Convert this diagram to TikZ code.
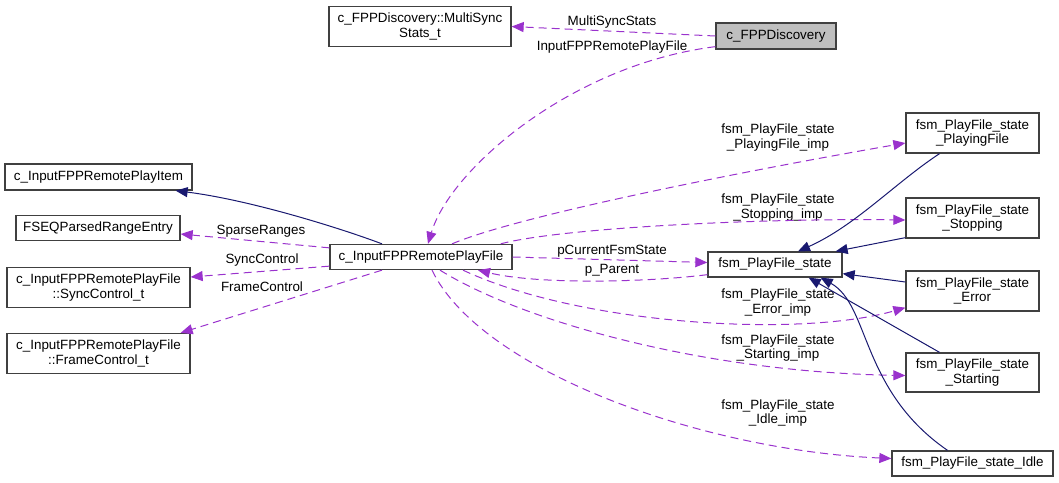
\documentclass[tikz,border=0pt]{standalone}
\usepackage{fontspec}
\setmainfont{Liberation Sans}
\usetikzlibrary{arrows.meta,calc}
\definecolor{Frame}{HTML}{404040}
\definecolor{Shade}{HTML}{BFBFBF}
\definecolor{Orchid}{HTML}{9A32CD}
\definecolor{Navy}{HTML}{191970}
\tikzset{box/.style={draw=Frame,fill=white,line width=1.3pt,inner sep=0pt,minimum height=25pt,align=center,font=\fontsize{13.4}{14.5}\selectfont},member/.style={-{Triangle[length=12pt,width=10pt]},line width=1pt,draw=Orchid,dash pattern=on 8pt off 5pt},inherit/.style={-{Triangle[length=12pt,width=10pt]},line width=1pt,draw=Navy},lab/.style={font=\fontsize{13.4}{14.5}\selectfont,align=center,inner sep=0pt}}

\begin{document}
\begin{tikzpicture}[
  x=1pt,y=-1pt,
  tall/.style={box,minimum height=40pt},
  side/.style={tall,minimum width=133pt}
]
\useasboundingbox (0,0) rectangle (1059,482);
\node[tall,minimum width=182pt] (msync) at (420,26.5) {c\_FPPDiscovery::MultiSync\\Stats\_t};
\node[box,fill=Shade,minimum width=120pt,minimum height=26pt] (disc) at (776,36) {c\_FPPDiscovery};
\node[box,minimum width=187pt,minimum height=26pt] (item) at (98.5,177) {c\_InputFPPRemotePlayItem};
\node[box,minimum width=164pt] (fseq) at (98,228) {FSEQParsedRangeEntry};
\node[tall,minimum width=183pt] (sync) at (98.5,287.5) {c\_InputFPPRemotePlayFile\\::SyncControl\_t};
\node[tall,minimum width=183pt] (frame) at (98.5,353.5) {c\_InputFPPRemotePlayFile\\::FrameControl\_t};
\node[box,minimum width=182pt] (file) at (421,257) {c\_InputFPPRemotePlayFile};
\node[box,minimum width=134pt] (state) at (775,264.5) {fsm\_PlayFile\_state};
\node[side] (playing) at (972.5,133) {fsm\_PlayFile\_state\\\_PlayingFile};
\node[side] (stopping) at (972.5,218) {fsm\_PlayFile\_state\\\_Stopping};
\node[side] (error) at (972.5,291) {fsm\_PlayFile\_state\\\_Error};
\node[side,minimum height=39pt] (starting) at (972.5,372.5) {fsm\_PlayFile\_state\\\_Starting};
\node[box,minimum width=161pt] (idle) at (972.5,463.5) {fsm\_PlayFile\_state\_Idle};

\node[lab] (lMulti) at (612,22) {MultiSyncStats};
\node[lab] (lInput) at (612,47) {InputFPPRemotePlayFile};
\node[lab] (lSparse) at (261,231) {SparseRanges};
\node[lab] (lSync) at (262,260) {SyncControl};
\node[lab] (lFrame) at (262,287) {FrameControl};
\node[lab] (lCurrent) at (612,251) {pCurrentFsmState};
\node[lab] (lParent) at (612,270) {p\_Parent};
\node[lab] (lPlaying) at (778,137.5) {fsm\_PlayFile\_state\\\_PlayingFile\_imp};
\node[lab] (lStopping) at (778,207.5) {fsm\_PlayFile\_state\\\_Stopping\_imp};
\node[lab] (lError) at (778,302.5) {fsm\_PlayFile\_state\\\_Error\_imp};
\node[lab] (lStarting) at (778,348) {fsm\_PlayFile\_state\\\_Starting\_imp};
\node[lab] (lIdle) at (778,413) {fsm\_PlayFile\_state\\\_Idle\_imp};

\draw[member] (disc.west) -- (msync.east);
\draw[member] ($(disc.south west)+(0,-3)$) .. controls (570,65) and (450,170) .. ($(file.north)+(7,0)$);
\draw[inherit] ($(file.north)+(-39,0)$) .. controls (340,228) and (250,200) .. ($(item.south east)+(-17,0)$);
\draw[member] ($(file.north west)+(0,4)$) -- ($(fseq.east)+(0,6)$);
\draw[member] ($(file.south west)+(0,-4)$) -- ($(sync.east)+(0,-10.5)$);
\draw[member] ($(file.south)+(-39,0)$) -- ($(frame.north east)+(-10,0)$);
\draw[member] (file.east) -- ($(state.west)+(0,-2)$);
\draw[member] ($(state.south west)+(0,-3)$) .. controls (650,282) and (540,285) .. ($(file.south)+(57,0)$);
\draw[member] ($(file.north)+(31,0)$) .. controls (520,215) and (750,170) .. ($(playing.west)+(0,10)$);
\draw[member] ($(file.north east)+(-12,0)$) .. controls (560,228) and (760,218) .. ($(stopping.west)+(0,2)$);
\draw[member] ($(file.south)+(42,0)$) .. controls (580,325) and (800,338) .. ($(error.south west)+(0,-4)$);
\draw[member] ($(file.south)+(19,0)$) .. controls (520,320) and (700,372) .. ($(starting.west)+(0,3)$);
\draw[member] ($(file.south)+(11,0)$) .. controls (480,370) and (700,450) .. ($(idle.west)+(0,-5)$);
\draw[inherit] ($(playing.south)+(-33,0)$) .. controls (895,183) and (855,226) .. ($(state.north)+(23,0)$);
\draw[inherit] ($(stopping.south west)+(0,-1)$) -- ($(state.north east)+(-7,0)$);
\draw[inherit] ($(error.west)+(0,-9)$) -- ($(state.south east)+(0,-4)$);
\draw[inherit] ($(starting.north)+(-33,0)$) -- ($(state.south east)+(-34,0)$);
\draw[inherit] ($(idle.north)+(-25,0)$) .. controls (860,390) and (870,305) .. ($(state.south east)+(-22,0)$);
\end{tikzpicture}
\end{document}
